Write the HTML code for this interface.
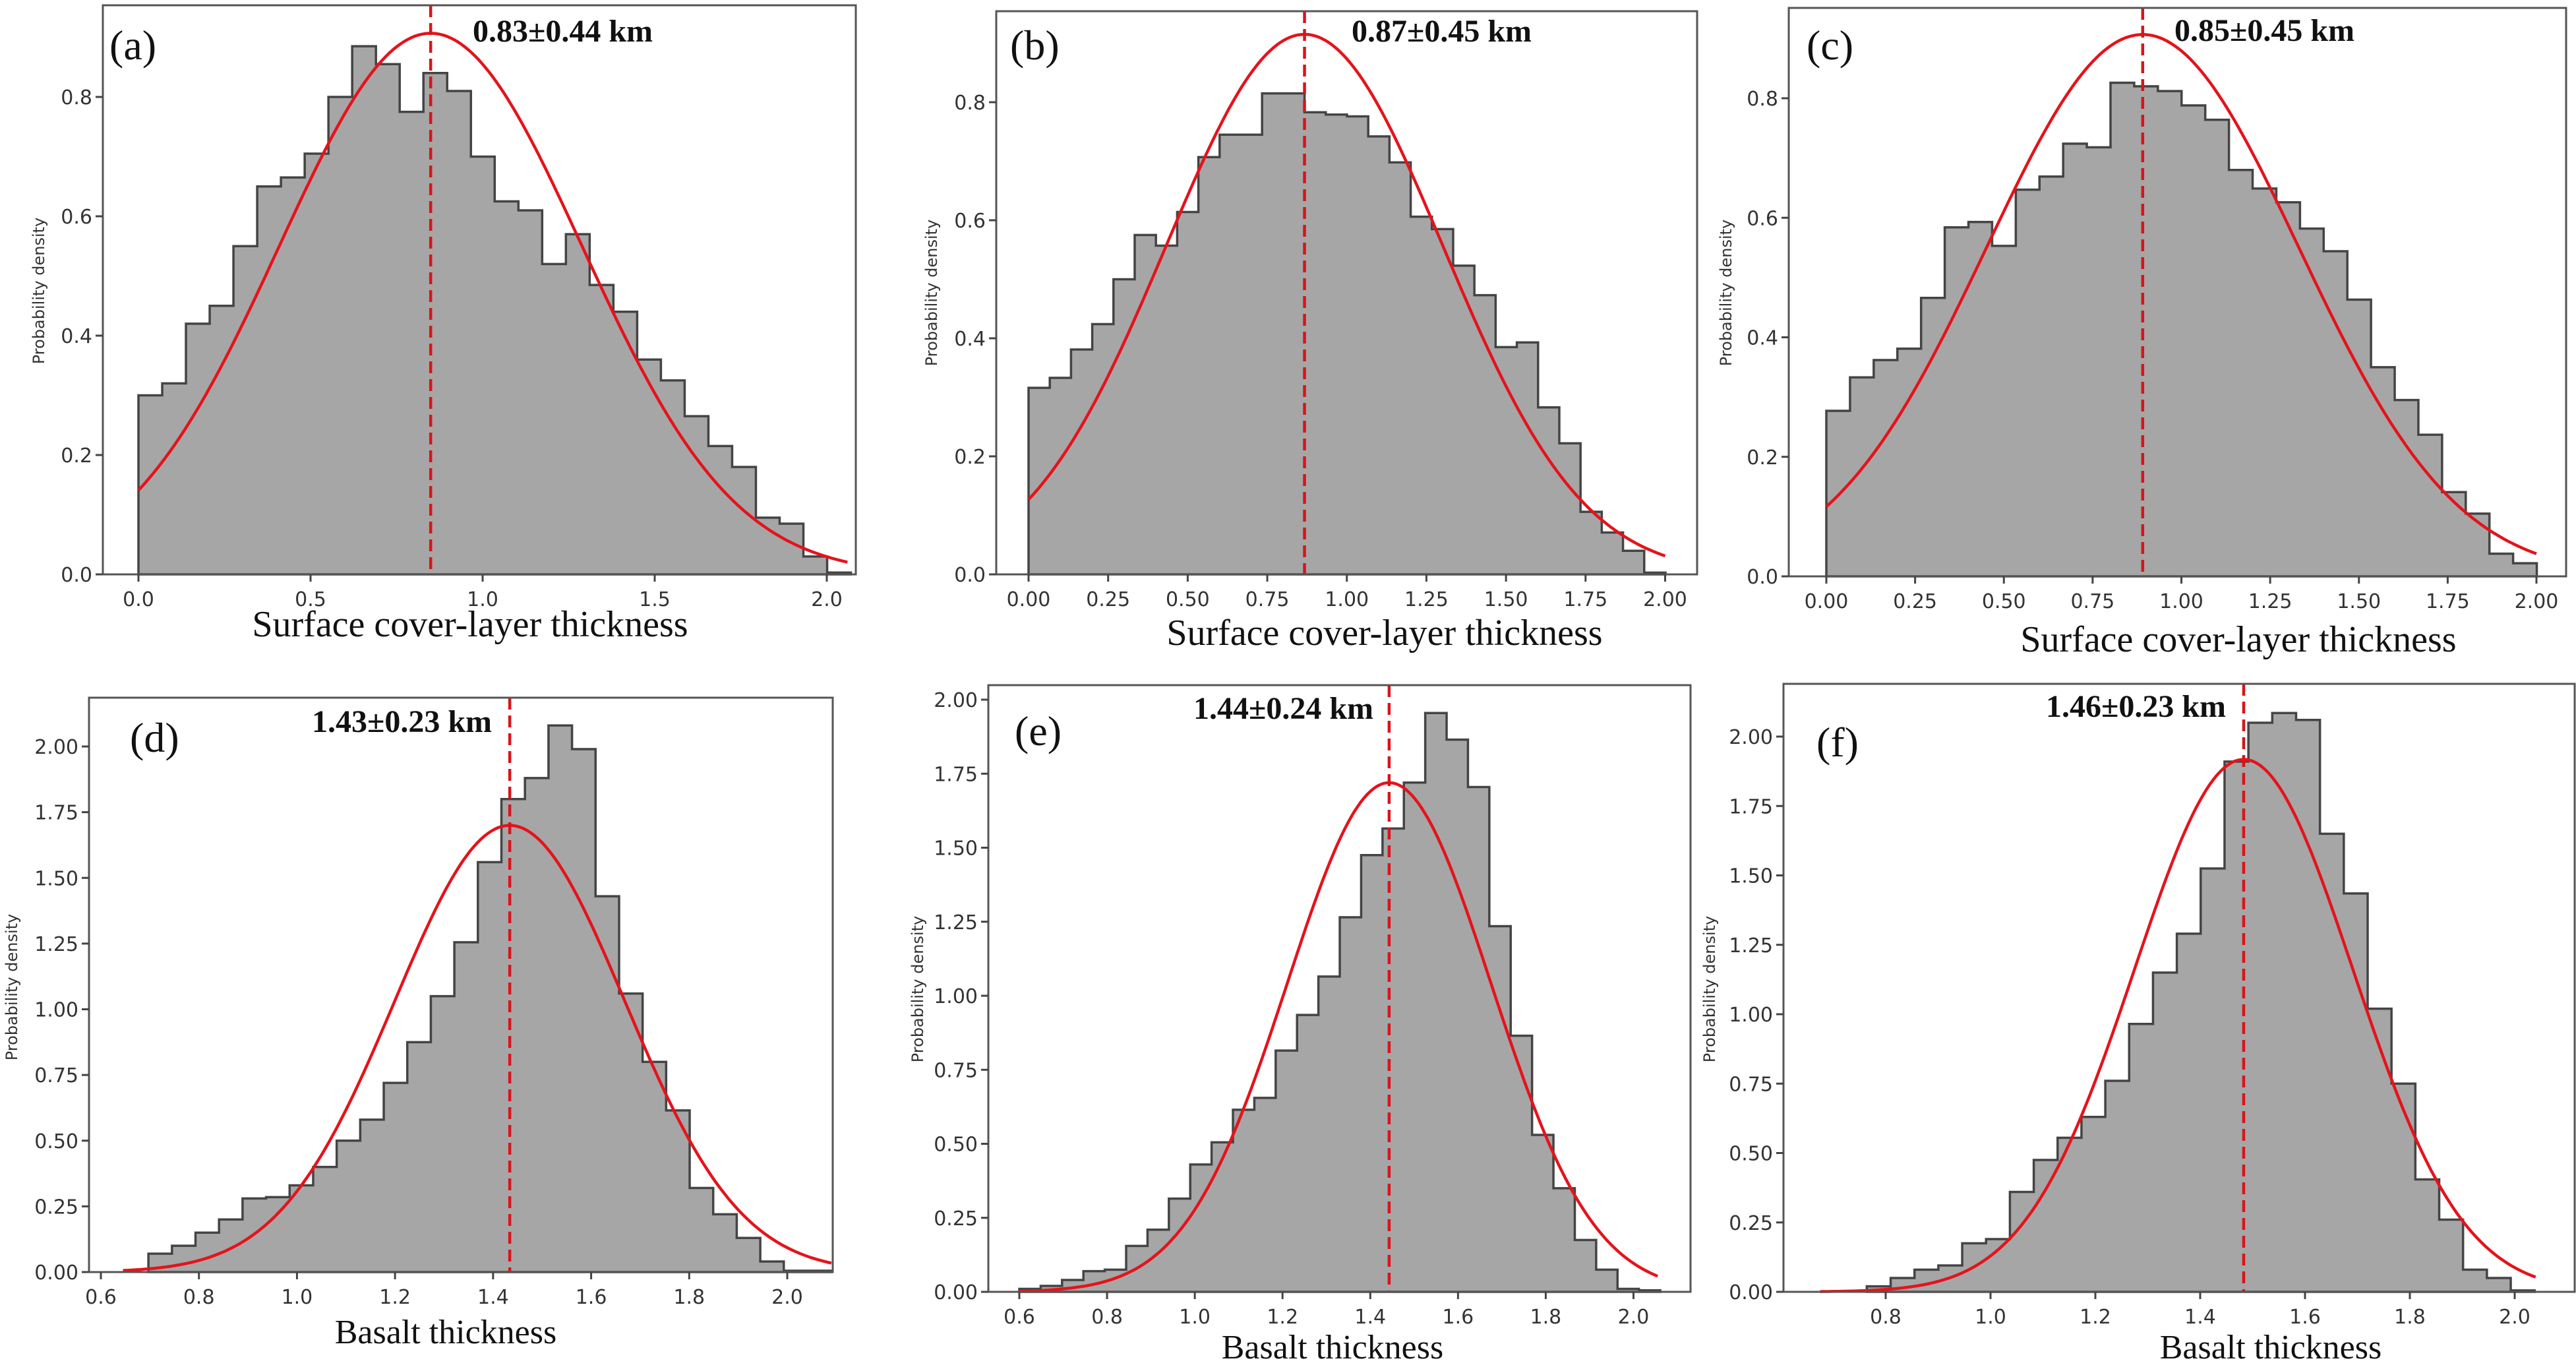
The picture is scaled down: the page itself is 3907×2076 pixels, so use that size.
<!DOCTYPE html>
<html><head><meta charset="utf-8">
<style>
html,body{margin:0;padding:0;background:#fff;}
svg{display:block;}
</style></head>
<body>
<svg id="fig" xmlns="http://www.w3.org/2000/svg" width="3907" height="2076" viewBox="0 0 3907 2076"></svg>
<script>
// ---- data (bin heights) ----
const histA = [0.30,0.32,0.42,0.45,0.55,0.65,0.665,0.705,0.80,0.885,0.855,0.775,0.84,0.81,0.70,0.625,0.61,0.52,0.57,0.485,0.44,0.36,0.325,0.265,0.215,0.18,0.095,0.085,0.03,0.003];
const histB = [0.316,0.333,0.381,0.424,0.50,0.575,0.557,0.614,0.707,0.745,0.745,0.815,0.815,0.783,0.779,0.776,0.742,0.698,0.606,0.585,0.523,0.473,0.385,0.393,0.283,0.222,0.106,0.071,0.04,0.003];
const histC = [0.277,0.333,0.362,0.381,0.466,0.584,0.593,0.553,0.647,0.669,0.724,0.718,0.826,0.82,0.812,0.788,0.764,0.680,0.649,0.626,0.582,0.544,0.463,0.35,0.295,0.237,0.141,0.105,0.038,0.022];
const histD = [0.07,0.10,0.15,0.20,0.28,0.285,0.33,0.40,0.50,0.58,0.72,0.875,1.05,1.255,1.56,1.80,1.88,2.08,1.99,1.43,1.06,0.80,0.615,0.32,0.22,0.13,0.04,0.005,0.005];
const histE = [0.01,0.02,0.04,0.07,0.075,0.155,0.21,0.315,0.43,0.505,0.615,0.655,0.815,0.935,1.065,1.265,1.475,1.565,1.72,1.955,1.865,1.705,1.235,0.865,0.53,0.35,0.175,0.075,0.01,0.005];
const histF = [0.02,0.05,0.08,0.095,0.175,0.19,0.36,0.475,0.555,0.63,0.76,0.965,1.15,1.29,1.525,1.91,2.05,2.085,2.06,1.65,1.435,1.02,0.75,0.405,0.26,0.08,0.05,0.005];
const binStart = [0, 0, 0, 0.697, 0.6, 0.764];
const binWidth = [0.069, 0.0667, 0.0667, 0.048, 0.0487, 0.0455];
const fitMean = [0.849, 0.867, 0.891, 1.434, 1.443, 1.483];
const fitSigma = [0.44, 0.436, 0.44, 0.2347, 0.232, 0.208];
const fitRange = [[0,2.06],[0,2.0],[0,2.0],[0.645,2.09],[0.6,2.055],[0.675,2.04]];
const annotations = ["0.83±0.44 km","0.87±0.45 km","0.85±0.45 km","1.43±0.23 km","1.44±0.24 km","1.46±0.23 km"];
const panelLetters = ["(a)","(b)","(c)","(d)","(e)","(f)"];
const xTitles = ["Surface cover-layer thickness","Surface cover-layer thickness","Surface cover-layer thickness","Basalt thickness","Basalt thickness","Basalt thickness"];
const xTicksA = [0,0.5,1.0,1.5,2.0];
const xTicksB = [0,0.25,0.5,0.75,1.0,1.25,1.5,1.75,2.0];
const xTicksD = [0.6,0.8,1.0,1.2,1.4,1.6,1.8,2.0];
const xTicksF = [0.8,1.0,1.2,1.4,1.6,1.8,2.0];
const yTicksTop = [0,0.2,0.4,0.6,0.8];
const yTicksBot = [0,0.25,0.5,0.75,1.0,1.25,1.5,1.75,2.0];

// ---- layout (pixel geometry) ----
const layout = [
 {L:156,R:1298,T:8,B:871, x0:0,px0:210,x1:2,px1:1254, y1:0.8,py1:147, xd:1,yd:1, xt:xTicksA,yt:yTicksTop, lab:[166,90], ann:[717,63], xl:[713,965], yl:[58,441], xf:56},
 {L:1511,R:2574,T:17,B:871, x0:0,px0:1560,x1:2,px1:2525.5, y1:0.8,py1:155, xd:2,yd:1, xt:xTicksB,yt:yTicksTop, lab:[1532,90], ann:[2050,63], xl:[2100,978], yl:[1412,444], xf:56},
 {L:2713,R:3892,T:12,B:874, x0:0,px0:2770,x1:2,px1:3847, y1:0.8,py1:149, xd:2,yd:1, xt:xTicksB,yt:yTicksTop, lab:[2740,90], ann:[3298,62], xl:[3395,988], yl:[2617,444], xf:56},
 {L:135,R:1263,T:1058,B:1929, x0:0.6,px0:153,x1:2,px1:1194, y1:2,py1:1132, xd:1,yd:2, xt:xTicksD,yt:yTicksBot, lab:[197,1140], ann:[473,1110], xl:[676,2037], yl:[17,1497], xf:52},
 {L:1499,R:2564,T:1039,B:1959, x0:0.6,px0:1546,x1:2,px1:2477.5, y1:2,py1:1061, xd:1,yd:2, xt:xTicksD,yt:yTicksBot, lab:[1539,1130], ann:[1810,1090], xl:[2021,2060], yl:[1391,1500], xf:52},
 {L:2705,R:3905,T:1037,B:1959, x0:0.8,px0:2860,x1:2,px1:3814, y1:2,py1:1117, xd:1,yd:2, xt:xTicksF,yt:yTicksBot, lab:[2755,1147], ann:[3103,1087], xl:[3444,2060], yl:[2592,1500], xf:52}
];
const hists = [histA,histB,histC,histD,histE,histF];
const NS = "http://www.w3.org/2000/svg";
const svg = document.getElementById('fig');
function mk(tag, attrs, parent){
  const e = document.createElementNS(NS, tag);
  for (const k in attrs) e.setAttribute(k, attrs[k]);
  (parent||svg).appendChild(e);
  return e;
}
layout.forEach((P, i) => {
  const g = mk('g', {});
  
  
  const sx = v => P.px0 + (v - P.x0) * (P.px1 - P.px0) / (P.x1 - P.x0);
  const sy = v => P.B - v * (P.B - P.py1) / P.y1;
  const h = hists[i];
  let d = 'M' + sx(binStart[i]) + ',' + sy(0);
  h.forEach((v, k) => {
    const a = binStart[i] + k * binWidth[i], b = a + binWidth[i];
    d += ' L' + sx(a) + ',' + sy(v) + ' L' + sx(b) + ',' + sy(v);
  });
  d += ' L' + sx(binStart[i] + h.length * binWidth[i]) + ',' + sy(0) + ' Z';
  const hp = mk('path', {d: d, fill: '#a6a6a6', stroke: '#444', 'stroke-width': 3.5, 'stroke-linejoin': 'miter'}, g);
  
  
  const m = fitMean[i], s = fitSigma[i];
  let c = '';
  const [r0, r1] = fitRange[i];
  for (let k = 0; k <= 200; k++) {
    const x = r0 + (r1 - r0) * k / 200;
    const y = Math.exp(-((x - m) ** 2) / (2 * s * s)) / (s * Math.sqrt(2 * Math.PI));
    c += (k ? ' L' : 'M') + sx(x).toFixed(1) + ',' + sy(y).toFixed(1);
  }
  const cp = mk('path', {d: c, fill: 'none', stroke: '#e5131b', 'stroke-width': 4.5}, g);
  
  
  const ml = mk('line', {x1: sx(m), x2: sx(m), y1: P.T, y2: P.B, stroke: '#d9141b', 'stroke-width': 4.5, 'stroke-dasharray': '18,9'}, g);
  
  
  const fr = mk('rect', {x: P.L, y: P.T, width: P.R - P.L, height: P.B - P.T, fill: 'none', stroke: '#555', 'stroke-width': 3}, g);
  
  
  P.xt.forEach(v => {
    const x = sx(v);
    const t = mk('line', {x1: x, x2: x, y1: P.B, y2: P.B + 11, stroke: '#444', 'stroke-width': 3}, g);
    
    
    const tx = mk('text', {x: x, y: P.B + 48, 'text-anchor': 'middle', 'font-family': 'DejaVu Sans, Liberation Sans, sans-serif', 'font-size': 30, fill: '#333'}, g);
    tx.textContent = v.toFixed(P.xd);
    
    
  });
  P.yt.forEach(v => {
    const y = sy(v);
    const t = mk('line', {x1: P.L - 11, x2: P.L, y1: y, y2: y, stroke: '#444', 'stroke-width': 3}, g);
    
    
    const tx = mk('text', {x: P.L - 16, y: y + 11, 'text-anchor': 'end', 'font-family': 'DejaVu Sans, Liberation Sans, sans-serif', 'font-size': 30, fill: '#333'}, g);
    tx.textContent = v.toFixed(P.yd);
    
    
  });
  const yl = mk('text', {x: 0, y: 0, transform: 'translate(' + (P.yl[0] + 9) + ',' + P.yl[1] + ') rotate(-90)', 'text-anchor': 'middle', 'font-family': 'DejaVu Sans, Liberation Sans, sans-serif', 'font-size': 24, fill: '#333'}, g);
  yl.textContent = 'Probability density';
  
  
  const xl = mk('text', {x: P.xl[0], y: P.xl[1], 'text-anchor': 'middle', 'font-family': 'Liberation Serif, serif', 'font-size': P.xf, fill: '#111'}, g);
  xl.textContent = xTitles[i];
  
  
  const pl = mk('text', {x: P.lab[0], y: P.lab[1], 'font-family': 'Liberation Serif, serif', 'font-size': 64, fill: '#111'}, g);
  pl.textContent = panelLetters[i];
  
  
  const an = mk('text', {x: P.ann[0], y: P.ann[1], 'font-family': 'Liberation Serif, serif', 'font-size': 48, 'font-weight': 'bold', fill: '#111'}, g);
  an.textContent = annotations[i];
  
  
});
</script>
</body></html>
